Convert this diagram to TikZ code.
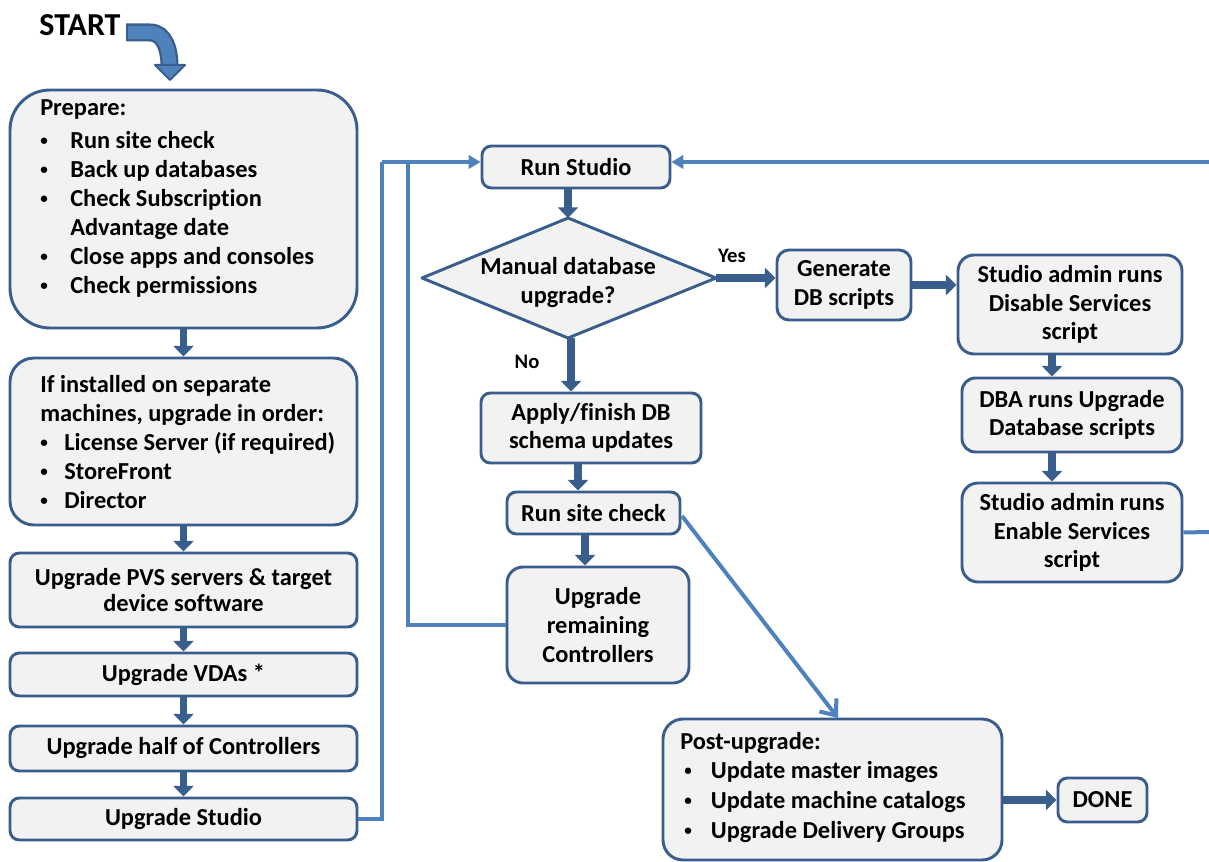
\documentclass[tikz,border=0pt]{standalone}
\usepackage{fontspec}
\setmainfont{Carlito}[Ligatures=NoCommon]
\usetikzlibrary{arrows.meta,calc}
\definecolor{dkb}{HTML}{3A5E8C}
\definecolor{ltb}{HTML}{4F81BD}
\definecolor{bxf}{HTML}{F2F2F2}
\newcommand\bl[1]{\makebox[#1][l]{\raisebox{0.12em}{\scalebox{0.62}{•}}}}
\tikzset{
  wh/.style 2 args={minimum width=#1*0.75pt, minimum height=#2*0.75pt},
  box/.style={draw=dkb, fill=bxf, line width=2.2pt, rounded corners=7pt, inner sep=0pt,
    font=\fontsize{18.3}{21.5}\selectfont\bfseries, align=center},
  txt/.style={inner sep=0pt, anchor=north west, align=left,
    font=\fontsize{18.3}{21.75}\selectfont\bfseries},
  darr/.style={draw=dkb, line width=5.5pt, -{Triangle[width=15pt,length=8pt]}},
  lline/.style={draw=ltb, line width=3pt},
  larr/.style={draw=ltb, line width=3pt, -{Triangle[width=10pt,length=9pt]}},
  lopen/.style={draw=ltb, line width=3pt, -{Straight Barb[width=16pt,length=10pt,line width=3pt]}},
  lab/.style={inner sep=0pt, font=\fontsize{15.5}{18}\selectfont\bfseries}
}
\begin{document}
\begin{tikzpicture}[x=0.75pt,y=-0.75pt]
\useasboundingbox (0,0) rectangle (1209,862);

% START
\node[inner sep=0pt, font=\fontsize{24}{28}\selectfont\bfseries] (start) at (80,25) {START};
\coordinate (sa1) at (126,32.5);
\coordinate (sa2) at (169.5,66);
\draw[dkb, line width=13.5pt] (sa1) -- (150,32.5) to[out=0,in=90] (sa2);
\draw[ltb, line width=10pt] ($(sa1)+(2,0)$) -- (150,32.5) to[out=0,in=90] (sa2);
\filldraw[fill=ltb, draw=dkb, line width=1.5pt, line join=round] (155,65) -- (185,65) -- (170,80) -- cycle;

% left column
\node[box, wh={347}{238}, rounded corners=30pt] (prep) at (183.5,209) {};
\node[txt] (prept) at (40,99) {Prepare:\\[3pt]
\bl{22.5pt}Run site check\\
\bl{22.5pt}Back up databases\\
\bl{22.5pt}Check Subscription\\
\hspace*{22.5pt}Advantage date\\
\bl{22.5pt}Close apps and consoles\\
\bl{22.5pt}Check permissions};

\node[box, wh={347}{167}, rounded corners=18pt] (inst) at (183.5,441.5) {};
\node[txt] (instt) at (40,375) {If installed on separate\\
machines, upgrade in order:\\
\bl{18pt}License Server (if required)\\
\bl{18pt}StoreFront\\
\bl{18pt}Director};

\node[box, wh={347}{74}] (pvs) at (183.5,590) {Upgrade PVS servers \& target\\[-1.5pt]device software};
\node[box, wh={347}{43}] (vda) at (183.5,674.5) {Upgrade VDAs *};
\node[box, wh={347}{45}] (half) at (183.5,748.5) {Upgrade half of Controllers};
\node[box, wh={347}{42}] (ust) at (183.5,819) {Upgrade Studio};

\draw[darr] (prep) -- (inst);
\draw[darr] (inst) -- (pvs);
\draw[darr] (pvs) -- (vda);
\draw[darr] (vda) -- (half);
\draw[darr] (half) -- (ust);

% middle column
\node[box, wh={188}{42}] (runst) at (576,167) {Run Studio};
\coordinate (dL) at (422,278);
\coordinate (dT) at (568,218);
\coordinate (dR) at (716,278);
\coordinate (dB) at (568,338);
\draw[draw=dkb, fill=bxf, line width=2.2pt, line join=round] (dL) -- (dT) -- (dR) -- (dB) -- cycle;
\node[inner sep=0pt, align=center, font=\fontsize{18.3}{21.75}\selectfont\bfseries] (dtxt) at (568,283) {Manual database\\upgrade?};

\node[box, wh={220}{70}] (apply) at (591,428) {Apply/finish DB\\schema updates};
\node[box, wh={173}{42}] (rsc) at (593.5,513) {Run site check};
\node[box, wh={182}{116}, rounded corners=12pt] (rem) at (598,625) {Upgrade\\remaining\\Controllers};

\draw[darr] (runst.south -| dT) -- (dT);
\draw[darr] (dB) ++(3,0) coordinate (dB2) -- (dB2 |- apply.north);
\draw[darr] (apply.south -| 578,0) -- (rsc.north -| 578,0);
\draw[darr] (rsc.south -| 585,0) -- (rem.north -| 585,0);
\node[lab] (no) at (527,362) {No};

% right column
\node[box, wh={134}{70}, rounded corners=9pt] (gen) at (844,285) {Generate\\DB scripts};
\node[box, wh={224}{99}, rounded corners=12pt] (dis) at (1070,304.5) {Studio admin runs\\Disable Services\\script};
\node[box, wh={220}{74}, rounded corners=10pt] (dba) at (1072,415) {DBA runs Upgrade\\Database scripts};
\node[box, wh={220}{99}, rounded corners=12pt] (ena) at (1072,532.5) {Studio admin runs\\Enable Services\\script};

\draw[darr] (dR) -- (dR -| gen.west);
\node[lab] (yes) at (732,256) {Yes};
\draw[darr] (gen.east) -- (gen.east -| dis.west);
\draw[darr] (dis.south -| 1052,0) -- (dba.north -| 1052,0);
\draw[darr] (dba.south -| 1052,0) -- (ena.north -| 1052,0);

% bottom
\node[box, wh={339}{141}, rounded corners=15pt] (post) at (832.5,789.5) {};
\node[txt] (postt) at (680,732) {Post-upgrade:\\
\hspace*{3pt}\bl{20pt}Update master images\\[0.75pt]
\hspace*{3pt}\bl{20pt}Update machine catalogs\\[0.75pt]
\hspace*{3pt}\bl{20pt}Upgrade Delivery Groups};
\node[box, wh={89}{44}] (done) at (1102.5,800) {DONE};
\draw[darr] (post.east |- done) -- (done.west);

% light connectors
\coordinate (jx) at (382,162);
\coordinate (jy) at (408,162);
\draw[lline] (ust.east) -| (jx);
\draw[larr] (jx) -- (runst.west |- jx);
\draw[lline] (rem.west) -| (jy);
\coordinate (re1) at (1209,532);
\coordinate (re2) at (1209,162);
\draw[lline] (ena.east) -- (re1);
\draw[larr] (re2) -- (runst.east |- re2);
\coordinate (rs1) at (682,516);
\coordinate (ps1) at (838,718);
\draw[lopen] (rs1) -- (ps1);
\end{tikzpicture}
\end{document}
